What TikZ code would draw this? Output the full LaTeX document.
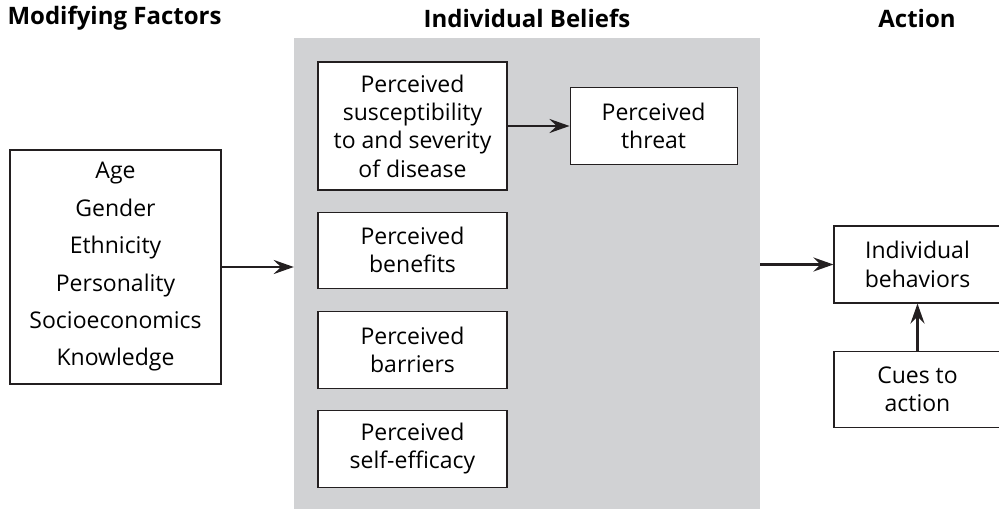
\documentclass[tikz,border=0pt]{standalone}
\usepackage{fontspec}
\setmainfont{Open Sans}
\usetikzlibrary{positioning, arrows.meta}
\definecolor{panelgray}{RGB}{209,210,212}
\definecolor{boxline}{RGB}{35,31,32}
\tikzset{
  every node/.style={inner sep=0pt, align=center}, % no padding, centred lines
  belief/.style={draw=boxline, line width=1.1pt, fill=white, minimum width=189pt,
    font=\fontsize{23}{28.3}\selectfont}, % sets the properties of each box
  actionbox/.style={belief, minimum width=167pt}, % the boxes on the right
  heading/.style={font=\bfseries\fontsize{24}{28}\selectfont}, % column titles
  link/.style={-{Stealth[length=20pt, width=14pt, inset=7pt]}, line width=2.6pt,
    draw=boxline}, % the connectors, with bold heads
}
\begin{document}
\begin{tikzpicture}[x=1pt, y=-1pt]
  \useasboundingbox (0,0) rectangle (999,509);

  \node[heading] (hfactors) at (114.5,18) {Modifying Factors};
  \node[heading] (hbeliefs) at (527,18) {Individual Beliefs};
  \node[heading] (haction) at (917,18) {Action};

  \node[fill=panelgray, minimum width=466pt, minimum height=471pt] (panel) at (527,273.5) {};

  \node[belief, minimum width=211pt, minimum height=234pt,
    font=\fontsize{23}{37.4}\selectfont] (factors) at (115.5,267)
    {Age\\Gender\\Ethnicity\\Personality\\Socioeconomics\\Knowledge};

  \node[belief, minimum height=128pt] (susc) at (412.5,126)
    {Perceived\\susceptibility\\to and severity\\of disease};
  \node[belief, minimum height=76pt, below=21pt of susc] (benefits) {Perceived\\benefits};
  \node[belief, minimum height=77pt, below=22pt of benefits] (barriers) {Perceived\\barriers};
  \node[belief, minimum height=77pt, below=21pt of barriers] (efficacy) {Perceived\\self-efficacy};
  \node[actionbox, minimum height=77pt, right=62pt of susc] (threat) {Perceived\\threat};

  \node[actionbox, minimum height=77pt] (behaviors) at (917.5,264.5) {Individual\\behaviors};
  \node[actionbox, minimum height=76pt, below=47pt of behaviors] (cues) {Cues to\\action};

  \draw[link] (factors.east) -- (factors.east -| panel.west);
  \draw[link] (susc) -- (threat);
  \draw[link] (panel.east |- behaviors.west) -- (behaviors.west);
  \draw[link] (cues) -- (behaviors);
\end{tikzpicture}
\end{document}
